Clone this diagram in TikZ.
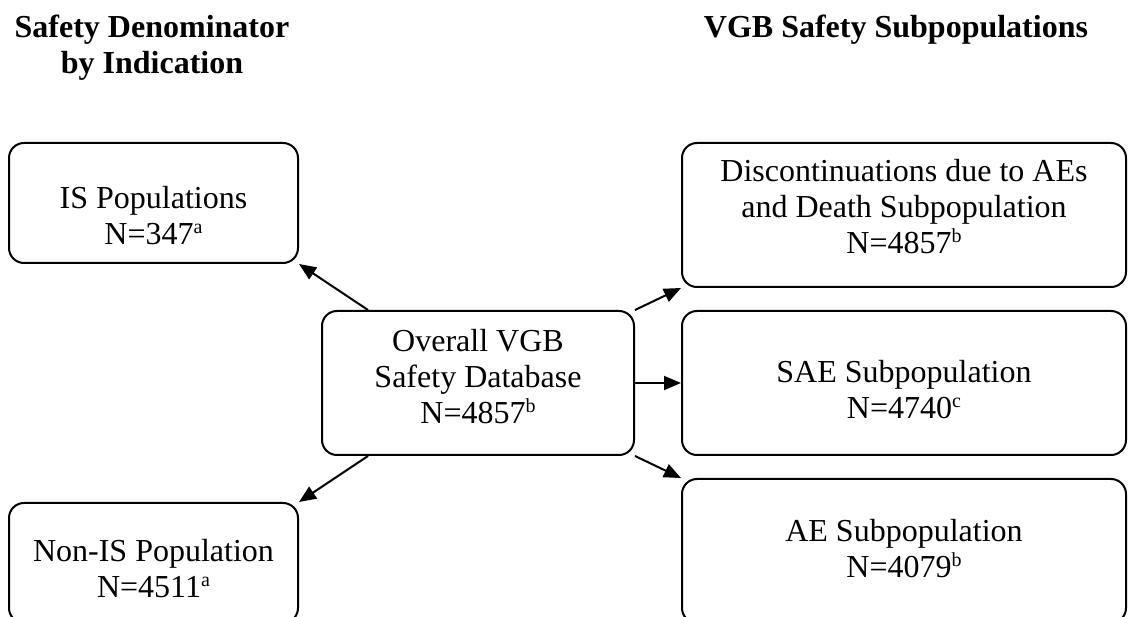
\documentclass[tikz,border=0pt]{standalone}
\usepackage{fontspec}
\setmainfont{Liberation Serif}
\usetikzlibrary{arrows.meta,calc}
\newcommand\sprs[1]{\raisebox{11pt}{\fontsize{20}{20}\selectfont #1}}
\begin{document}
\begin{tikzpicture}[x=1pt,y=-1pt,
  box/.style={draw, line width=2pt, rounded corners=15pt, inner sep=0pt},
  txt/.style={align=center, inner sep=0pt, anchor=north, font=\fontsize{32}{36}\selectfont},
  hd/.style={align=center, inner sep=0pt, anchor=north, font=\fontsize{32}{36}\selectfont\bfseries},
  arr/.style={line width=2pt, -{Triangle[length=17pt,width=14pt]}}]
\useasboundingbox (0,0) rectangle (1128,617);
\clip (0,0) rectangle (1128,617);

% headings
\node[hd] (hleft) at (152,11.8) {\strut Safety Denominator\\\strut by Indication};
\node[hd] (hright) at (896,11.8) {\strut VGB Safety Subpopulations};

% boxes
\node[box, minimum width=289pt, minimum height=120pt] (is) at (153.5,203) {};
\node[box, minimum width=289pt, minimum height=120pt] (nonis) at (153.5,563) {};
\node[box, minimum width=312pt, minimum height=144pt] (ctr) at (478,383) {};
\node[box, minimum width=444pt, minimum height=144pt] (disc) at (904,215) {};
\node[box, minimum width=444pt, minimum height=144pt] (sae) at (904,383) {};
\node[box, minimum width=444pt, minimum height=144pt] (ae) at (904,551) {};

% texts
\node[txt] (istxt) at (153.5,182.8) {\strut IS Populations\\\strut N=347\sprs{a}};
\node[txt] (nonistxt) at (153.5,535.8) {\strut Non-IS Population\\\strut N=4511\sprs{a}};
\node[txt] (ctrtxt) at (478,325.8) {\strut Overall VGB\\\strut Safety Database\\\strut N=4857\sprs{b}};
\node[txt] (disctxt) at (904,155.8) {\strut Discontinuations due to AEs\\\strut and Death Subpopulation\\\strut N=4857\sprs{b}};
\node[txt] (saetxt) at (904,356.8) {\strut SAE Subpopulation\\\strut N=4740\sprs{c}};
\node[txt] (aetxt) at (904,515.8) {\strut AE Subpopulation\\\strut N=4079\sprs{b}};

% arrows
\draw[arr] ($(ctr.north west)+(47,0)$) -- (is.south east);
\draw[arr] ($(ctr.south west)+(47,0)$) -- (nonis.north east);
\draw[arr] (ctr.north east) -- (disc.south west);
\draw[arr] (ctr.east) -- (sae.west);
\draw[arr] (ctr.south east) -- (ae.north west);
\end{tikzpicture}
\end{document}
